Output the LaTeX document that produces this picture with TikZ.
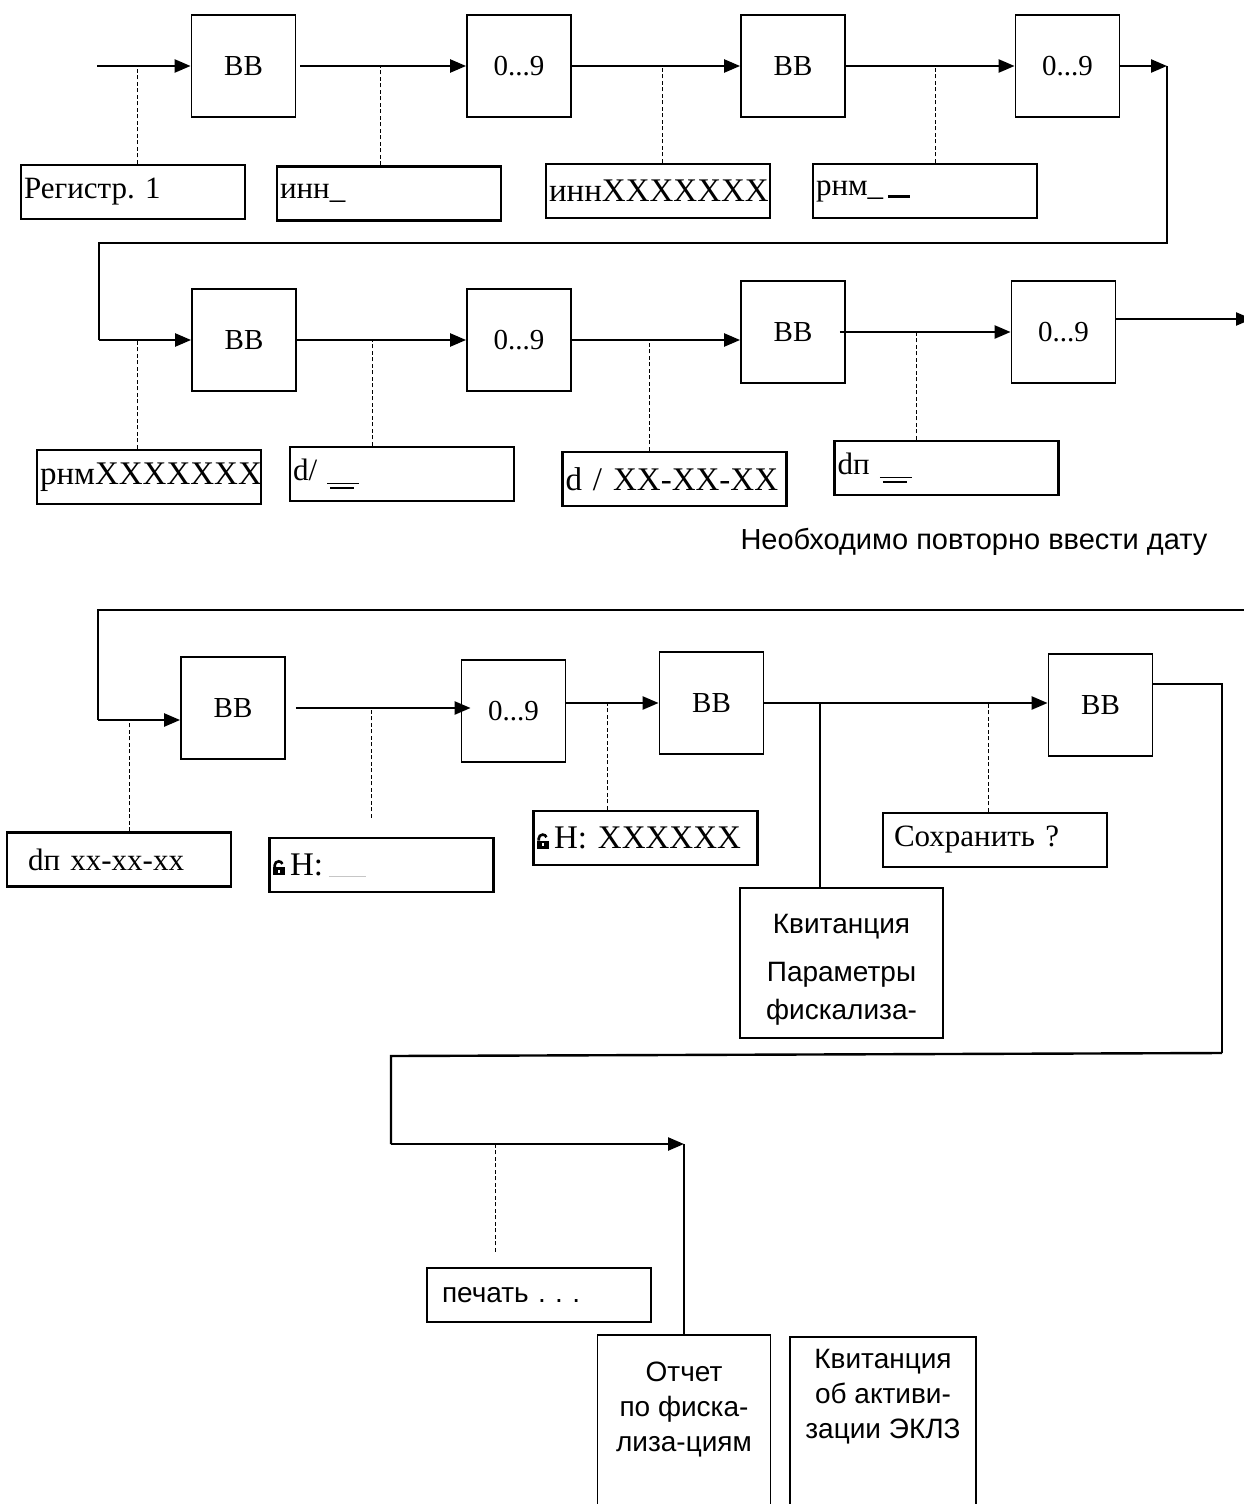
\documentclass[tikz,border=0pt]{standalone}
\usepackage{xcolor}
\usepackage{fontspec}
\setmainfont{Liberation Serif}
\setsansfont{Liberation Sans}
\usetikzlibrary{arrows.meta,positioning}
\frenchspacing

\newcommand{\lockicon}{\tikz[baseline=0pt,x=1pt,y=1pt]{\fill (0,0) rectangle (12,8); \draw[line width=2.6pt] (2.2,8) -- (2.2,10) arc[start angle=180,end angle=20,radius=4]; \fill[white] (5,2.5) rectangle (7.5,5.5);}}
\newcommand{\dblline}{\rlap{\rule[-4pt]{32pt}{1.3pt}}\hspace*{3pt}\rule[-9pt]{24pt}{2.6pt}}

\begin{document}
\begin{tikzpicture}[x=1pt, y=-1pt,
    keybox/.style={draw, line width=1.8pt, minimum width=104pt, minimum height=102pt, inner sep=0pt, font=\fontsize{29}{32}\selectfont},
    dispbox/.style={draw, line width=2.4pt, minimum height=54pt, text width=218pt, inner xsep=3pt, inner ysep=0pt, align=left, font=\fontsize{31}{34}\selectfont},
    notebox/.style={draw, line width=1.8pt, inner sep=0pt, font=\sffamily\fontsize{28}{35}\selectfont},
    flow/.style={line width=2.4pt, -{Triangle[length=16pt,width=13pt]}},
    wire/.style={line width=2.4pt},
    thinwire/.style={line width=1.6pt},
    hint/.style={line width=0.9pt, dash pattern=on 4pt off 2.5pt}]

    \useasboundingbox (0,0) rectangle (1244,1504);

    % First row
    \coordinate (in1) at (97,66);
    \node[keybox] at (243.5,66) (vv1) {ВВ};
    \node[keybox] at (519,66) (nn1) {0...9};
    \node[keybox] at (793,66) (vv2) {ВВ};
    \node[keybox] at (1067.5,66) (nn2) {0...9};

    \node[dispbox] at (133,192) (sreg) {Регистр. 1};
    \node[dispbox] at (389,193.5) (sinn) {инн\_};
    \node[dispbox, font=\fontsize{33}{36}\selectfont] at (658,191) (sinnx) {иннXXXXXXX};
    \node[dispbox] at (925,191) (srnm) {рнм\_\,\rule[-3pt]{22pt}{2.6pt}};

    \draw[flow] (in1) -- (vv1.west);
    \draw[flow] ([xshift=4pt]vv1.east) -- (nn1.west);
    \draw[flow] (nn1.east) -- (vv2.west);
    \draw[flow] (vv2.east) -- (nn2.west);

    % Turn to second row
    \coordinate (turn1) at (1167,66);
    \coordinate (turn2) at (99,243);
    \coordinate (in2) at (99,340);
    \draw[flow] (nn2.east) -- (turn1);
    \draw[wire] (turn1) |- (turn2) -- (in2);

    % Second row
    \node[keybox] at (244,340) (vv3) {ВВ};
    \node[keybox] at (519,340) (nn3) {0...9};
    \node[keybox] at (793,332) (vv4) {ВВ};
    \node[keybox] at (1063.5,332) (nn4) {0...9};

    \node[dispbox, font=\fontsize{33}{36}\selectfont] at (149,477) (srnmx) {рнмXXXXXXX};
    \node[dispbox] at (402,474) (sdate) {d/ \dblline};
    \node[dispbox, font=\fontsize{33}{36}\selectfont] at (674.5,479) (sdatex) {d / XX-XX-XX};
    \node[dispbox] at (946.5,468) (sdp) {dп \dblline};

    \draw[flow] (in2) -- (vv3.west);
    \draw[flow] (vv3.east) -- (nn3.west);
    \draw[flow] (nn3.east) -- (nn3.east -| vv4.west);
    \draw[flow] ([xshift=-6pt]vv4.east) -- (nn4.west);
    \coordinate (out2) at (1252,319);
    \draw[flow] ([yshift=13pt]nn4.east) -- (out2);

    \node[font=\sffamily\fontsize{29}{34}\selectfont] at (974,542) (note) {Необходимо повторно ввести дату};

    % Third row
    \coordinate (back3) at (1244,610);
    \coordinate (in3) at (98,720);
    \draw[wire] (back3) -- (back3 -| in3) -- (in3);

    \node[keybox] at (233,708) (vv5) {ВВ};
    \node[keybox] at (513.5,711) (nn5) {0...9};
    \node[keybox] at (711.5,703) (vv6) {ВВ};
    \node[keybox] at (1100.5,705) (vv7) {ВВ};

    \node[dispbox] at (119,859.5) (sdpx) {\hspace*{18pt}dп xx-xx-xx};
    \node[dispbox, font=\fontsize{33}{36}\selectfont] at (381.5,865) (sh) {\lockicon\,Н:\,\textcolor{gray!45}{\rule[-1pt]{37pt}{0.8pt}}};
    \node[dispbox, font=\fontsize{33}{36}\selectfont] at (645.5,838) (shx) {\lockicon\,Н: XXXXXX};
    \node[dispbox] at (995,840) (ssave) {\hspace*{8pt}Сохранить ?};
    \node[notebox, anchor=north] at (841.5,887) (receipt) {\parbox[c][150pt][t]{203pt}{\vspace*{26pt}\centering\fontsize{28}{38}\selectfont Квитанция\\[10pt]Параметры\\фискализа-}};

    \draw[flow] (in3) -- (in3 -| vv5.west);
    \draw[flow] ([xshift=10pt]vv5.east) -- ([xshift=10pt]vv5.east -| nn5.west);
    \draw[flow] ([yshift=8pt]nn5.east) -- (vv6.west);
    \draw[flow] (vv6.east) -- (vv6.east -| vv7.west);
    \draw[wire] ([xshift=-21.5pt]receipt.north) -- ([xshift=-21.5pt]receipt.north |- vv6.east);

    % Printing
    \node[dispbox, font=\sffamily\fontsize{28}{34}\selectfont] at (539,1295) (sprint) {\hspace*{12pt}печать . . .};
    \node[notebox, anchor=north] at (684,1334) (report) {\parbox[c][200pt][t]{173pt}{\vspace*{27pt}\centering Отчет\\по фиска-\\лиза-циям}};
    \node[notebox, anchor=north] at (883,1336) (ticket) {\parbox[c][200pt][t]{186pt}{\vspace*{12pt}\centering Квитанция\\об активи-\\зации ЭКЛЗ}};

    \coordinate (turn4) at (1222,1053);
    \coordinate (turn5) at (391,1056);
    \coordinate (in4) at (391,1144);
    \draw[thinwire] ([yshift=21pt]vv7.east) -| (turn4);
    \draw[wire] (turn4) -- (turn5) -- (in4);
    \draw[flow] (in4) -- (in4 -| report.north);
    \draw[wire] (in4 -| report.north) -- (report.north);

    % Dashed hints
    \foreach \s/\a/\dx/\gap in {sreg/in1/4/0, sinn/vv1/-9/0, sinnx/nn1/4/0, srnm/vv2/10/0,
        srnmx/in2/-12/0, sdate/vv3/-30/0, sdatex/nn3/-25/0, sdp/vv4/-30/0,
        sdpx/in3/10/0, sh/vv5/-10/19, shx/vv6/-38/0, ssave/vv6/-7/0, sprint/in4/-44/15}
        \draw[hint] ([xshift=\dx pt, yshift=\gap pt]\s.north) -- ([xshift=\dx pt]\s.north |- \a);

\end{tikzpicture}
\end{document}
